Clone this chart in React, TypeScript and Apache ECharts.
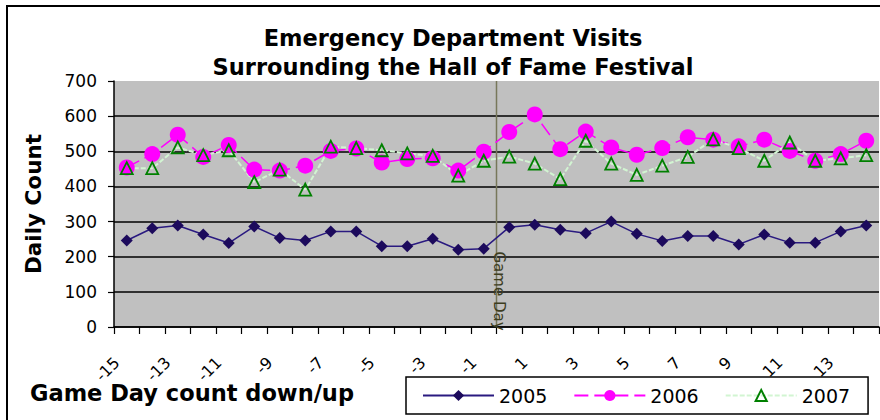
import React, { useEffect, useRef } from "react";
import * as echarts from "echarts";

const days = ["-15","-14","-13","-12","-11","-10","-9","-8","-7","-6","-5","-4","-3","-2","-1","0","1","2","3","4","5","6","7","8","9","10","11","12","13","14"];
const v2005 = [246, 281, 289, 263, 239, 286, 253, 246, 272, 272, 230, 230, 251, 220, 223, 284, 291, 277, 267, 300, 265, 245, 259, 259, 235, 263, 240, 240, 272, 289];
const v2006 = [454, 492, 547, 484, 518, 448, 445, 459, 501, 508, 468, 478, 480, 445, 499, 555, 605, 506, 556, 511, 490, 509, 540, 533, 514, 533, 501, 473, 492, 530];
const v2007 = [452, 452, 511, 489, 503, 412, 448, 391, 513, 509, 503, 494, 487, 431, 473, 485, 465, 421, 530, 465, 433, 459, 484, 534, 509, 473, 525, 473, 480, 489];
const seriesNames = ["2005", "2006", "2007"];
const titleLines = ["Emergency Department Visits", "Surrounding the Hall of Fame Festival"];
const xTitle = "Game Day count down/up";
const yTitle = "Daily Count";
const markerLabel = "Game Day";
const markerBetween = ["-1", "0"];
const yMin = 0;
const yMax = 700;
const yStep = 100;

const FONT = "DejaVu Sans";

export default function App() {
  const ref = useRef<HTMLDivElement>(null);
  useEffect(() => {
    document.body.style.margin = "0";
    const chart = echarts.init(ref.current!, null, { renderer: "svg" });
    chart.setOption({
      animation: false,
      backgroundColor: "#ffffff",
      title: {
        text: titleLines.join("\n"),
        left: 448,
        top: 18,
        textAlign: "center",
        textStyle: { fontFamily: FONT, fontWeight: "bold", fontSize: 22.5, lineHeight: 29, color: "#000" },
      },
      grid: {
        left: 114, right: 1, top: 81, bottom: 93,
        show: true, backgroundColor: "#c0c0c0", borderWidth: 0,
        containLabel: false, outerBoundsMode: "none",
      },
      legend: {
        data: seriesNames,
        left: 406, top: 377,
        orient: "horizontal",
        itemWidth: 71, itemHeight: 14, itemGap: 26,
        padding: [9, 18, 9, 16],
        borderColor: "#000", borderWidth: 1.5, backgroundColor: "#fff",
        textStyle: { fontFamily: FONT, fontSize: 19, color: "#000" },
      },
      xAxis: {
        type: "category",
        data: days,
        boundaryGap: true,
        axisLine: { show: true, lineStyle: { color: "#000", width: 1.5 } },
        axisTick: { show: true, interval: 0, length: 7, lineStyle: { color: "#000", width: 1.2 } },
        axisLabel: {
          interval: 1, rotate: 45, margin: 23, padding: [0, 14, 0, 0],
          fontFamily: FONT, fontSize: 16, color: "#000",
        },
        splitLine: { show: false },
      },
      yAxis: {
        type: "value",
        min: yMin, max: yMax, interval: yStep,
        name: yTitle,
        nameLocation: "middle",
        nameRotate: 90,
        nameGap: 70,
        nameTextStyle: { fontFamily: FONT, fontWeight: "bold", fontSize: 21.5, color: "#000" },
        axisLine: { show: true, lineStyle: { color: "#000", width: 1.5 } },
        axisTick: { show: true, length: 6, lineStyle: { color: "#000", width: 1.2 } },
        axisLabel: { margin: 17, fontFamily: FONT, fontSize: 17, color: "#000" },
        splitLine: { show: true, showMaxLine: false, lineStyle: { color: "#000", width: 1.6 } },
      },
      series: [
        {
          name: seriesNames[0], type: "line", data: v2005,
          symbol: "diamond", symbolSize: 12,
          lineStyle: { color: "#2a1a80", width: 1.5 },
          itemStyle: { color: "#1c0a5c" },
        },
        {
          name: seriesNames[1], type: "line", data: v2006,
          symbol: "circle", symbolSize: 16,
          lineStyle: { color: "#ff00ff", width: 1.5, type: [14, 6] },
          itemStyle: { color: "#ff00ff" },
        },
        {
          name: seriesNames[2], type: "line", data: v2007,
          symbol: "triangle", symbolSize: 12,
          lineStyle: { color: "#d2f5d2", width: 2, type: [5, 2] },
          itemStyle: { color: "rgba(0,0,0,0)", borderColor: "#008000", borderWidth: 1.8 },
        },
      ],
    });

    const xa = chart.convertToPixel({ xAxisIndex: 0 }, markerBetween[0]) as number;
    const xb = chart.convertToPixel({ xAxisIndex: 0 }, markerBetween[1]) as number;
    const gx = (xa + xb) / 2;
    const yTop = chart.convertToPixel({ yAxisIndex: 0 }, yMax) as number;
    const yBot = chart.convertToPixel({ yAxisIndex: 0 }, yMin) as number;

    chart.setOption({
      graphic: [
        {
          type: "rect", silent: true, z: 0,
          shape: { x: 7, y: 6, width: 1000, height: 1000 },
          style: { fill: "none", stroke: "#000", lineWidth: 2 },
        },
        {
          type: "line", silent: true, z: 1,
          shape: { x1: gx, y1: yTop, x2: gx, y2: yBot },
          style: { stroke: "#77775a", lineWidth: 1.5 },
        },
        {
          type: "text", silent: true, z: 10,
          x: gx + 2, y: 291, rotation: -Math.PI / 2,
          style: {
            text: markerLabel, fontFamily: FONT, fontSize: 15, fill: "#3d3d1f",
            align: "center", verticalAlign: "middle",
          },
        },
        {
          type: "text", silent: true, z: 10,
          x: 30, y: 393,
          style: {
            text: xTitle, fontFamily: FONT, fontSize: 22.5, fontWeight: "bold", fill: "#000",
            align: "left", verticalAlign: "middle",
          },
        },
      ],
    });

    return () => chart.dispose();
  }, []);
  return <div ref={ref} style={{ width: 880, height: 420, position: "absolute", left: 0, top: 0 }} />;
}
